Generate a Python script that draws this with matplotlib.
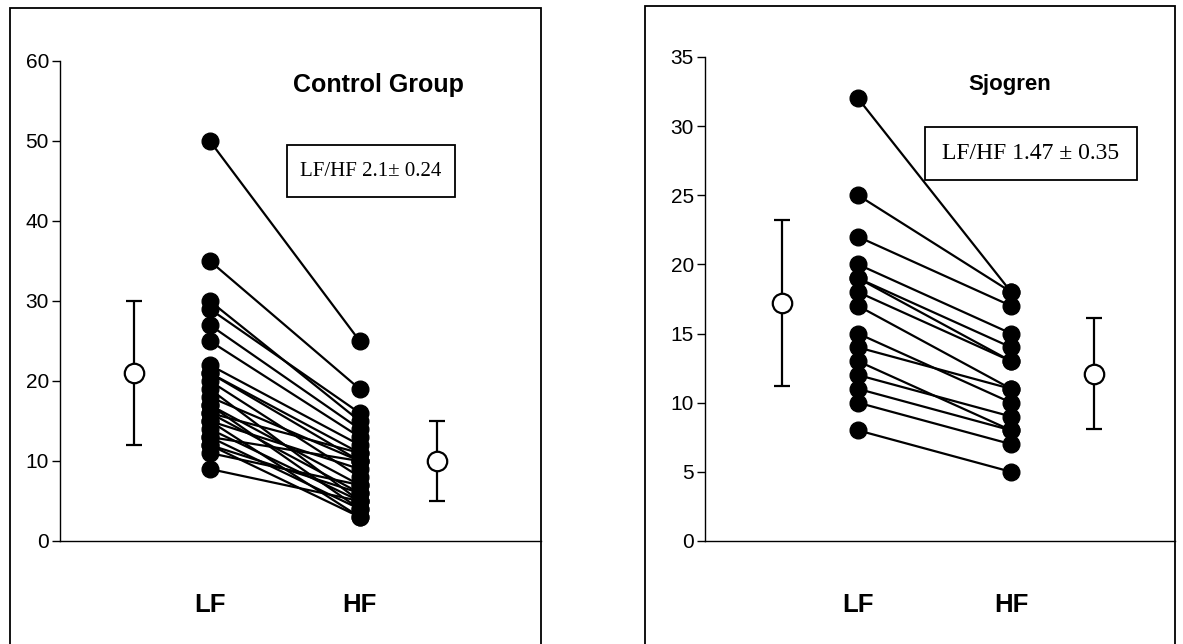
import matplotlib.pyplot as plt
from matplotlib.patches import Rectangle

W, H = 1183, 644

# Control group: paired LF -> HF values per subject
ctrl_lf = [50, 35, 30, 29, 27, 25, 22, 21, 21, 20, 19, 18, 17, 17, 16, 16, 15, 15, 14, 13, 13, 12, 12, 11, 9]
ctrl_hf = [25, 19, 15, 16, 14, 13, 12, 11, 10, 8, 5, 10, 7, 4, 6, 11, 3, 9, 5, 4, 10, 6, 3, 7, 5]
ctrl_mean = [21, 10]
ctrl_err = [9, 5]

# Sjogren group
sjo_lf = [32, 25, 22, 20, 19, 19, 18, 17, 15, 14, 13, 12, 11, 10, 8]
sjo_hf = [18, 18, 17, 15, 14, 13, 13, 11, 10, 11, 8, 9, 8, 7, 5]
sjo_mean = [17.2, 12.1]
sjo_err = [6, 4]

ctrl_text = 'LF/HF 2.1\u00b1 0.24'
sjo_text = 'LF/HF 1.47 \u00b1 0.35'


def fx(px):
    return px / W


def fy(py):
    return 1 - py / H


plt.rcParams['font.family'] = ['Liberation Sans', 'DejaVu Sans']

fig = plt.figure(figsize=(W / 100, H / 100), dpi=100)
fig.patch.set_facecolor('white')

# panel frames
for x0, y0, x1 in [(10, 8, 541), (645, 6, 1175)]:
    fig.patches.append(Rectangle((fx(x0), fy(H + 5)), fx(x1) - fx(x0), fy(y0) - fy(H + 5),
                                 transform=fig.transFigure, fill=False, lw=1.3,
                                 edgecolor='black'))


def panel(rect, lf, hf, mean, err, ymax, ystep, xlim, mean_x, title, title_xy, title_fs,
          box_text, box_px, box_fs, lab_y):
    ax = fig.add_axes(rect)
    for a, b in zip(lf, hf):
        ax.plot([1, 2], [a, b], color='black', lw=1.6, marker='o', ms=12,
                markerfacecolor='black', markeredgecolor='black', clip_on=False, zorder=3)
    ax.errorbar(mean_x, mean, yerr=err, fmt='o', ms=14, mfc='white', mec='black',
                mew=1.6, ecolor='black', elinewidth=1.6, capsize=6, capthick=1.6,
                clip_on=False, zorder=4)
    ax.set_xlim(*xlim)
    ax.set_ylim(0, ymax)
    ax.set_yticks(range(0, ymax + 1, ystep))
    ax.set_xticks([])
    ax.spines['top'].set_visible(False)
    ax.spines['right'].set_visible(False)
    ax.spines['left'].set_linewidth(1.0)
    ax.spines['bottom'].set_linewidth(1.0)
    ax.tick_params(axis='y', direction='out', length=6, width=1.0, labelsize=15, pad=2)
    ax.patch.set_visible(False)
    ax.text(title_xy[0], title_xy[1], title, ha='center', va='center',
            fontsize=title_fs, fontweight='bold')
    ax.text(1, lab_y, 'LF', ha='center', va='center', fontsize=18.5, fontweight='bold',
            clip_on=False)
    ax.text(2, lab_y, 'HF', ha='center', va='center', fontsize=18.5, fontweight='bold',
            clip_on=False)
    bx0, by0, bx1, by1 = box_px
    fig.patches.append(Rectangle((fx(bx0), fy(by1)), fx(bx1) - fx(bx0), fy(by0) - fy(by1),
                                 transform=fig.transFigure, fill=True, facecolor='white',
                                 lw=1.3, edgecolor='black', zorder=5))
    fig.text(fx((bx0 + bx1) / 2), fy((by0 + by1) / 2), box_text, ha='center', va='center',
             fontsize=box_fs, family=['Liberation Serif', 'DejaVu Serif'], zorder=6)
    return ax


panel([fx(60), fy(541), fx(541) - fx(60), fy(61) - fy(541)],
      ctrl_lf, ctrl_hf, ctrl_mean, ctrl_err, 60, 10, (0, 3.21), [0.493, 2.513],
      'Control Group', (2.127, 57), 18, ctrl_text, (287, 145, 455, 197), 15, -8)

panel([fx(705), fy(541), fx(1175) - fx(705), fy(57) - fy(541)],
      sjo_lf, sjo_hf, sjo_mean, sjo_err, 35, 5, (0, 3.07), [0.50, 2.54],
      'Sjogren', (1.99, 33.0), 16, sjo_text, (925, 127, 1137, 180), 17, -4.63)

fig.savefig('out.png', dpi=100)
